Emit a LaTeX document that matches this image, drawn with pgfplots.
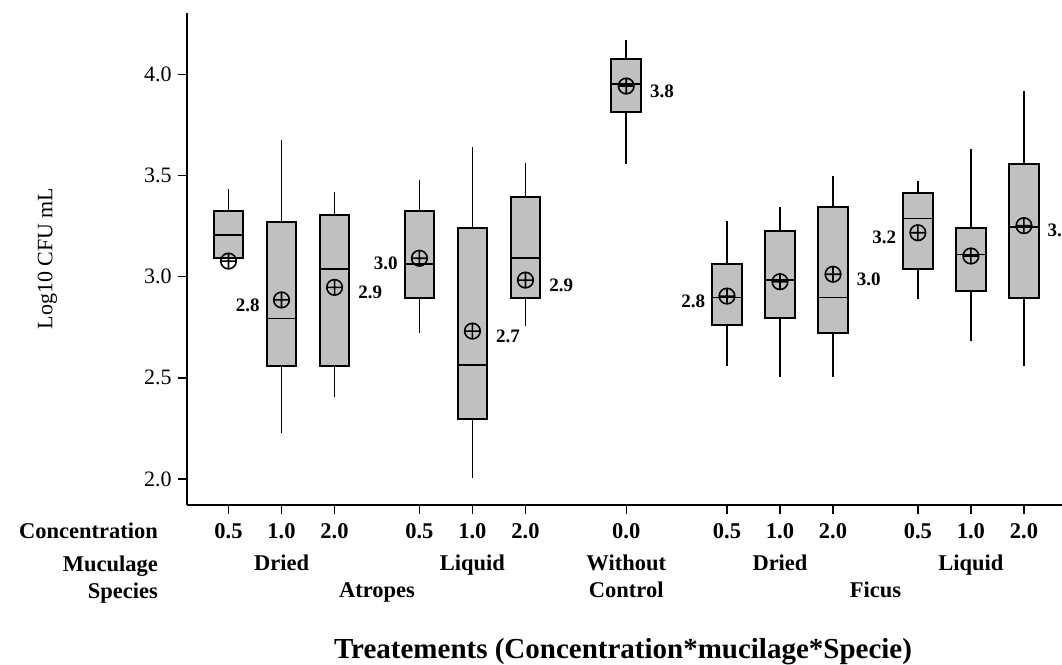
\documentclass[border=0pt]{standalone}
\usepackage{fontspec}
\setmainfont{Liberation Serif}
\usepackage{pgfplots}
\pgfplotsset{compat=1.18}
\usepgfplotslibrary{statistics}
\definecolor{boxgray}{HTML}{C0C0C0}
\tikzset{rowlab/.style={font=\bfseries\fontsize{22.5}{26}\selectfont, anchor=base, inner sep=0pt}}
\pgfplotstableread{
x y lab
1 2.885 2.8
3.6 3.091 3.0
9.4 2.904 2.8
13 3.217 3.2
}\leftmeans
\pgfplotstableread{
x y lab
2 2.947 2.9
4.6 2.731 2.7
5.6 2.983 2.9
7.5 3.942 3.8
11.4 3.012 3.0
15 3.252 3.2
}\rightmeans
\pgfplotstableread{
x y
0 3.077
10.4 2.975
14 3.102
}\plainmeans
\begin{document}
\begin{tikzpicture}[x=1pt,y=1pt]
\useasboundingbox (0,0) rectangle (1062,664);
\begin{axis}[
 at={(186.7pt,159pt)}, anchor=south west,
 scale only axis, width=875.3pt, height=492pt,
 xmin=-0.788, xmax=15.718, ymin=1.8715, ymax=4.303,
 axis lines=left, axis line style={-, line width=1.6pt, black},
 clip=false,
 xtick={0,1,2,3.6,4.6,5.6,7.5,9.4,10.4,11.4,13,14,15},
 xticklabels={},
 ytick={2,2.5,3,3.5,4},
 yticklabels={2.0,2.5,3.0,3.5,4.0},
 tick align=outside, major tick length=9pt,
 tick style={line width=1.4pt, black},
 yticklabel style={font=\fontsize{22}{26}\selectfont, inner sep=0pt, xshift=-6pt},
 boxplot/draw direction=y,
 boxplot/every box/.style={draw=black, fill=boxgray, line width=1.9pt},
 boxplot/every whisker/.style={draw=black, line width=1.5pt},
 boxplot/every median/.style={draw=black, line width=1.6pt},
 boxplot/box extend=0.56, boxplot/whisker extend=0,
]
\addplot[boxplot prepared={draw position=0, lower whisker=3.091, lower quartile=3.091, median=3.207, upper quartile=3.324, upper whisker=3.433}] coordinates {};
\addplot[boxplot prepared={draw position=1, lower whisker=2.229, lower quartile=2.560, median=2.794, upper quartile=3.272, upper whisker=3.675}] coordinates {};
\addplot[boxplot prepared={draw position=2, lower whisker=2.407, lower quartile=2.560, median=3.038, upper quartile=3.305, upper whisker=3.417}] coordinates {};
\addplot[boxplot prepared={draw position=3.6, lower whisker=2.720, lower quartile=2.893, median=3.063, upper quartile=3.324, upper whisker=3.478}] coordinates {};
\addplot[boxplot prepared={draw position=4.6, lower whisker=2.003, lower quartile=2.295, median=2.562, upper quartile=3.242, upper whisker=3.639}] coordinates {};
\addplot[boxplot prepared={draw position=5.6, lower whisker=2.756, lower quartile=2.893, median=3.091, upper quartile=3.395, upper whisker=3.560}] coordinates {};
\addplot[boxplot prepared={draw position=7.5, lower whisker=3.555, lower quartile=3.815, median=3.951, upper quartile=4.076, upper whisker=4.170}] coordinates {};
\addplot[boxplot prepared={draw position=9.4, lower whisker=2.560, lower quartile=2.759, median=2.896, upper quartile=3.064, upper whisker=3.275}] coordinates {};
\addplot[boxplot prepared={draw position=10.4, lower whisker=2.506, lower quartile=2.794, median=2.983, upper quartile=3.227, upper whisker=3.344}] coordinates {};
\addplot[boxplot prepared={draw position=11.4, lower whisker=2.506, lower quartile=2.723, median=2.896, upper quartile=3.343, upper whisker=3.497}] coordinates {};
\addplot[boxplot prepared={draw position=13, lower whisker=2.890, lower quartile=3.038, median=3.288, upper quartile=3.415, upper whisker=3.471}] coordinates {};
\addplot[boxplot prepared={draw position=14, lower whisker=2.683, lower quartile=2.929, median=3.109, upper quartile=3.242, upper whisker=3.631}] coordinates {};
\addplot[boxplot prepared={draw position=15, lower whisker=2.560, lower quartile=2.893, median=3.244, upper quartile=3.557, upper whisker=3.917}] coordinates {};
% means
\addplot[only marks, mark=oplus, mark size=7.8pt, mark options={line width=1.6pt, draw=black}] table[x=x,y=y] {\plainmeans};
\addplot[only marks, mark=oplus, mark size=7.8pt, mark options={line width=1.6pt, draw=black},
  nodes near coords, point meta=explicit symbolic,
  nodes near coords style={anchor=east, xshift=-21pt, yshift=-5pt, inner sep=0pt, font=\bfseries\fontsize{19}{21}\selectfont, text=black}] table[x=x,y=y,meta=lab] {\leftmeans};
\addplot[only marks, mark=oplus, mark size=7.8pt, mark options={line width=1.6pt, draw=black},
  nodes near coords, point meta=explicit symbolic,
  nodes near coords style={anchor=west, xshift=23pt, yshift=-5pt, inner sep=0pt, font=\bfseries\fontsize{19}{21}\selectfont, text=black}] table[x=x,y=y,meta=lab] {\rightmeans};
% concentration row
\node[rowlab] at (axis cs:0,1.7084) {0.5};
\node[rowlab] at (axis cs:1,1.7084) {1.0};
\node[rowlab] at (axis cs:2,1.7084) {2.0};
\node[rowlab] at (axis cs:3.6,1.7084) {0.5};
\node[rowlab] at (axis cs:4.6,1.7084) {1.0};
\node[rowlab] at (axis cs:5.6,1.7084) {2.0};
\node[rowlab] at (axis cs:7.5,1.7084) {0.0};
\node[rowlab] at (axis cs:9.4,1.7084) {0.5};
\node[rowlab] at (axis cs:10.4,1.7084) {1.0};
\node[rowlab] at (axis cs:11.4,1.7084) {2.0};
\node[rowlab] at (axis cs:13,1.7084) {0.5};
\node[rowlab] at (axis cs:14,1.7084) {1.0};
\node[rowlab] at (axis cs:15,1.7084) {2.0};
% mucilage row
\node[rowlab] at (axis cs:1,1.5454) {Dried};
\node[rowlab] at (axis cs:4.6,1.5454) {Liquid};
\node[rowlab] at (axis cs:7.5,1.5454) {Without};
\node[rowlab] at (axis cs:10.4,1.5454) {Dried};
\node[rowlab] at (axis cs:14,1.5454) {Liquid};
% species row
\node[rowlab] at (axis cs:2.8,1.4122) {Atropes};
\node[rowlab] at (axis cs:7.5,1.4122) {Control};
\node[rowlab] at (axis cs:12.2,1.4122) {Ficus};
\end{axis}
\begin{scope}[every node/.style={inner sep=0pt}]
\node[anchor=base east, font=\bfseries\fontsize{22.5}{26}\selectfont] at (158,126) {Concentration};
\node[anchor=base east, font=\bfseries\fontsize{22.5}{26}\selectfont] at (158,93) {Muculage};
\node[anchor=base east, font=\bfseries\fontsize{22.5}{26}\selectfont] at (158,66) {Species};
\node[anchor=base, font=\bfseries\fontsize{29}{33}\selectfont] at (623,6) {Treatements (Concentration*mucilage*Specie)};
\node[rotate=90, font=\fontsize{22}{26}\selectfont] at (47.5,405.5) {Log10 CFU mL};
\end{scope}
\end{tikzpicture}
\end{document}
